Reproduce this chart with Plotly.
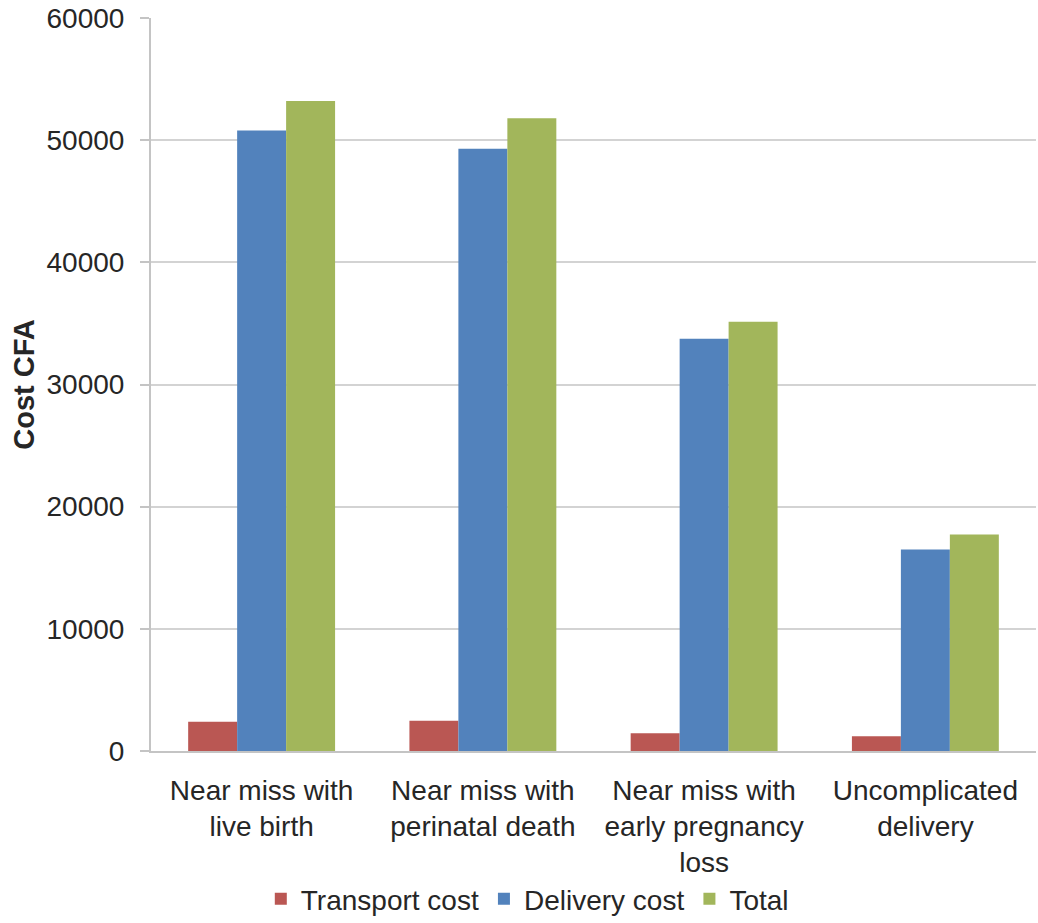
import plotly.graph_objects as go

categories = [
    "Near miss with<br>live birth",
    "Near miss with<br>perinatal death",
    "Near miss with<br>early pregnancy<br>loss",
    "Uncomplicated<br>delivery",
]
transport_cost = [2400, 2480, 1450, 1200]
delivery_cost = [50800, 49300, 33750, 16500]
total_cost = [53200, 51800, 35130, 17720]
y_ticks = [0, 10000, 20000, 30000, 40000, 50000, 60000]

FONT = "Liberation Sans, Arial, sans-serif"
TEXT = "#262626"

fig = go.Figure()
for name, vals, color in [
    ("Transport cost", transport_cost, "#BA5753"),
    ("Delivery cost", delivery_cost, "#5282BC"),
    ("Total", total_cost, "#A2B65B"),
]:
    fig.add_trace(go.Bar(x=categories, y=vals, name=name,
                         marker=dict(color=color, line=dict(width=0))))

fig.update_layout(
    width=1038, height=923,
    margin=dict(l=151, r=2, t=18, b=172),
    paper_bgcolor="white", plot_bgcolor="white",
    barmode="group", bargap=0.336, bargroupgap=0,
    font=dict(family=FONT, size=28, color=TEXT),
    showlegend=True,
    legend=dict(orientation="h", xref="container", x=0.508, xanchor="center",
                yref="container", y=0.026, yanchor="middle",
                font=dict(family=FONT, size=28, color=TEXT), traceorder="normal",
                itemwidth=30, tracegroupgap=0),
)
fig.update_xaxes(
    automargin=False,
    showgrid=False, showline=True, linecolor="#c4c4c4", linewidth=2,
    ticks="", tickfont=dict(family=FONT, size=28, color=TEXT),
    ticklabelstandoff=13,
)
fig.update_yaxes(
    automargin=False,
    range=[0, 60000], tickvals=y_ticks, ticktext=[str(v) for v in y_ticks],
    showgrid=True, gridcolor="#d3d3d3", gridwidth=2,
    showline=True, linecolor="#c4c4c4", linewidth=2,
    ticks="outside", ticklen=9, tickcolor="#c4c4c4", tickwidth=2,
    tickfont=dict(family=FONT, size=28, color=TEXT),
    ticklabelstandoff=10,
    zeroline=False,
    title=dict(text="<b>Cost CFA</b>", font=dict(family=FONT, size=29, color=TEXT), standoff=3),
)

fig.write_html("out.html")
